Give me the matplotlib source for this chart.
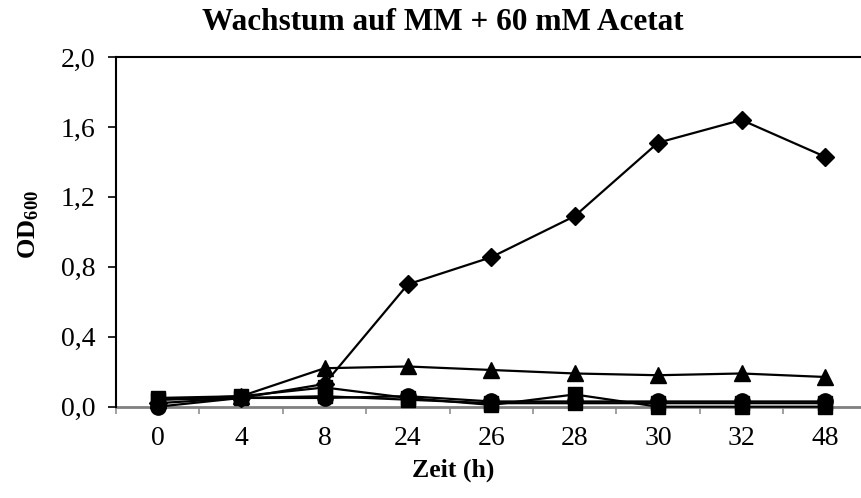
import matplotlib
matplotlib.use("Agg")
import matplotlib.pyplot as plt
import numpy as np

plt.rcParams['font.family'] = ['Liberation Serif', 'DejaVu Serif']
plt.rcParams['mathtext.fontset'] = 'custom'
plt.rcParams['mathtext.rm'] = 'Liberation Serif'
plt.rcParams['mathtext.bf'] = 'Liberation Serif:bold'

categories = ['0', '4', '8', '24', '26', '28', '30', '32', '48']
diamond = [0.02, 0.05, 0.13, 0.70, 0.855, 1.09, 1.51, 1.64, 1.43]
triangle = [0.04, 0.06, 0.22, 0.23, 0.21, 0.19, 0.18, 0.19, 0.17]
square = [0.05, 0.06, 0.11, 0.05, 0.01, 0.07, 0.00, 0.00, 0.00]
circle = [0.00, 0.05, 0.05, 0.06, 0.03, 0.03, 0.03, 0.03, 0.03]
square2 = [0.04, 0.05, 0.06, 0.04, 0.02, 0.02, 0.02, 0.02, 0.02]
yticks = [0.0, 0.4, 0.8, 1.2, 1.6, 2.0]
ytick_labels = ['0,0', '0,4', '0,8', '1,2', '1,6', '2,0']

fig = plt.figure(figsize=(8.61, 4.98), dpi=100)
ax = fig.add_axes([116/861, 1-406.7/498, 750.6/861, (406.7-57)/498])
x = np.arange(len(categories))

for vals, m, ms in [(square2, 's', 10), (circle, 'o', 11), (square, 's', 10.5),
                    (triangle, '^', 12), (diamond, 'D', 9)]:
    ax.plot(x, vals, color='black', lw=1.6, marker=m, markersize=ms,
            markerfacecolor='black', markeredgecolor='black', clip_on=False, zorder=3)

ax.set_xlim(-0.5, len(categories) - 0.5)
ax.set_ylim(0, 2.0)
ax.set_yticks(yticks)
ax.set_yticklabels(ytick_labels, fontsize=20)
ax.set_xticks(x)
ax.set_xticklabels(categories, fontsize=20)
ax.set_xticks(np.arange(-0.5, len(categories)), minor=True)
ax.tick_params(axis='x', which='major', length=0, pad=14)
ax.tick_params(axis='x', which='minor', length=5, color='#909090', width=1.2, direction='out')
ax.tick_params(axis='y', which='major', length=6, width=1.2, color='black', direction='out', pad=9)

ax.spines['right'].set_visible(False)
ax.spines['top'].set_linewidth(1.5)
ax.spines['left'].set_linewidth(1.5)
ax.spines['bottom'].set_color('#808080')
ax.spines['bottom'].set_linewidth(2.0)
ax.spines['bottom'].set_zorder(2)

fig.text(443/861, 1-23/498, 'Wachstum auf MM + 60 mM Acetat', ha='center', va='center',
         fontsize=22.5, fontweight='bold')
fig.text(453/861, 1-470/498, 'Zeit (h)', ha='center', va='center', fontsize=18.5, fontweight='bold')
fig.text(29/861, 1-225/498, r'$\mathbf{OD_{600}}$', ha='center', va='center', rotation=90,
         fontsize=19)

fig.savefig('out.png', dpi=100)
